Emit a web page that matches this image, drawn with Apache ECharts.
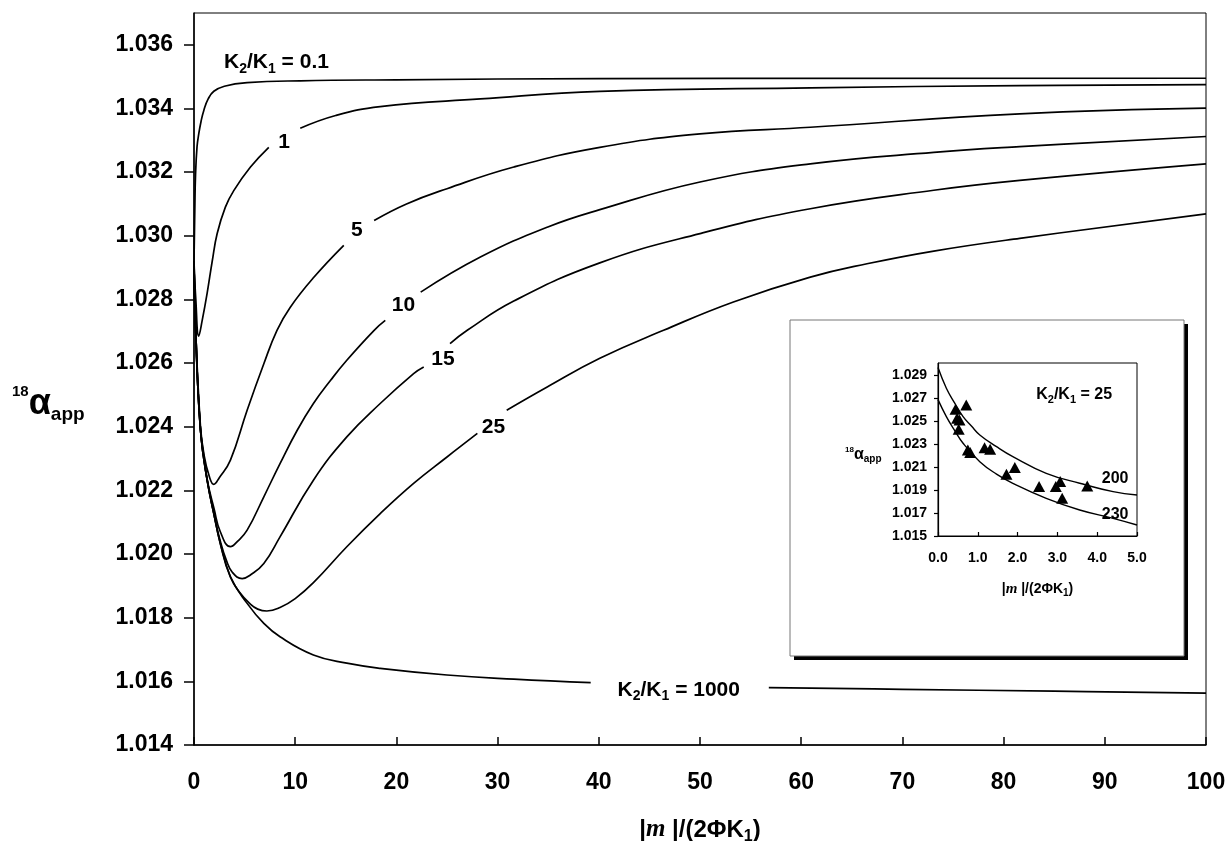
<!DOCTYPE html>
<html>
<head>
<meta charset="utf-8">
<script src="https://cdn.jsdelivr.net/npm/echarts@6/dist/echarts.min.js"></script>
<style>
  html, body { margin: 0; padding: 0; background: #fff; }
  #chart { width: 1228px; height: 841px; }
</style>
</head>
<body>
<div id="chart"></div>
<script>
// main panel: [x, alpha]; null marks the gap where the curve label sits
const curveK01 = [[0, 1.0292], [0.08, 1.0308], [0.15, 1.0319], [0.3, 1.0328], [0.47, 1.0332], [0.7, 1.0336], [0.97, 1.03394], [1.4, 1.0343], [1.96, 1.03454], [3, 1.0347], [5.25, 1.03481], [10.5, 1.03487], [20, 1.0349], [40, 1.03494], [100, 1.03495]];
const curveK1 = [[0, 1.0292], [0.18, 1.028], [0.47, 1.02685], [0.81, 1.02734], [1.3, 1.0282], [1.8, 1.0292], [2.29, 1.03007], [3.1, 1.0309], [3.93, 1.03142], [5.58, 1.03216], [7.39, 1.03278], [8.9, null], [10.5, 1.03338], [14, 1.03378], [18.4, 1.03406], [28.3, 1.0343], [40.1, 1.03454], [60.9, 1.03465], [81.6, 1.03472], [100, 1.03475]];
const curveK5 = [[0, 1.0292], [0.15, 1.0272], [0.64, 1.024], [1.0, 1.0231], [1.5, 1.02245], [1.96, 1.02219], [2.5, 1.0224], [3.6, 1.02295], [5.25, 1.02452], [6.9, 1.02598], [8.2, 1.02703], [9.5, 1.02775], [11.8, 1.02868], [14.8, 1.0297], [16.1, null], [17.8, 1.03048], [21, 1.031], [25, 1.03148], [31.6, 1.03216], [40.1, 1.03278], [50, 1.0332], [60.9, 1.03341], [81.6, 1.03383], [100, 1.03401]];
const curveK10 = [[0, 1.0292], [0.15, 1.0272], [0.64, 1.0239], [1.3, 1.02235], [2.0, 1.0214], [2.6, 1.0207], [3.6, 1.02023], [4.3, 1.0204], [5.25, 1.02075], [6.9, 1.0218], [8.5, 1.02284], [10.2, 1.02389], [11.8, 1.02473], [13.5, 1.02546], [15.1, 1.02609], [17.8, 1.02703], [18.9, 1.02734], [20.7, null], [22.4, 1.02823], [28.3, 1.02933], [34.9, 1.03027], [40.1, 1.03082], [50, 1.03169], [60.9, 1.03226], [73.1, 1.03262], [81.6, 1.0328], [100, 1.03312]];
const curveK15 = [[0, 1.0292], [0.15, 1.0272], [0.64, 1.0239], [1.3, 1.02232], [1.96, 1.02127], [2.6, 1.0204], [3.2, 1.0198], [3.8, 1.01942], [4.76, 1.01923], [5.6, 1.01935], [6.9, 1.0197], [8.5, 1.02054], [11.8, 1.02232], [15.1, 1.02368], [18.4, 1.02473], [21.7, 1.02567], [22.7, 1.02588], [24.6, null], [25.3, 1.02661], [27, 1.02703], [31.6, 1.02795], [40.1, 1.02915], [50, 1.03007], [60.9, 1.03085], [73.1, 1.03143], [81.6, 1.03174], [100, 1.03226]];
const curveK25 = [[0, 1.0292], [0.15, 1.0272], [0.64, 1.0239], [1.3, 1.02232], [1.96, 1.02127], [2.6, 1.02033], [3.6, 1.01928], [4.5, 1.0188], [5.5, 1.01845], [6.3, 1.01827], [7.2, 1.01821], [8.5, 1.01832], [10, 1.0186], [11.8, 1.0191], [15.1, 1.02023], [18.4, 1.02127], [21.7, 1.02222], [25, 1.02305], [28, 1.02379], [29.6, null], [30.9, 1.02452], [34.9, 1.02525], [40.1, 1.02615], [46.4, 1.02703], [53.3, 1.02792], [60.9, 1.0287], [66.5, 1.02912], [73.1, 1.02952], [81.6, 1.02992], [100, 1.03069]];
const curveK1000 = [[0, 1.0292], [0.15, 1.0272], [0.3, 1.0258], [0.64, 1.0239], [1.0, 1.023], [1.3, 1.02232], [1.96, 1.02127], [2.6, 1.02033], [3.6, 1.01928], [5.25, 1.01845], [6.9, 1.01782], [8.5, 1.0174], [11.8, 1.01683], [15.1, 1.01657], [18.4, 1.01641], [25, 1.0162], [31.6, 1.01607], [39.2, 1.01596], [47.9, null], [56.8, 1.0158], [70, 1.01575], [85, 1.01569], [100, 1.01563]];

const mainLabelText = ['K{s|2}/K{s|1} = 0.1', '1', '5', '10', '15', '25', 'K{s|2}/K{s|1} = 1000'];
const mainLabelX = [8.15, 8.9, 16.1, 20.7, 24.6, 29.6, 47.9];
const mainLabelY = [1.03544, 1.03294, 1.03017, 1.02781, 1.02612, 1.02399, 1.01573];
const mainYTicks = [1.014, 1.016, 1.018, 1.020, 1.022, 1.024, 1.026, 1.028, 1.030, 1.032, 1.034, 1.036];

// inset: K2/K1 = 25
const inset200 = [[0, 1.0297], [0.21, 1.0279], [0.42, 1.0266], [0.63, 1.02542], [0.84, 1.0246], [1.05, 1.02382], [1.47, 1.0228], [1.88, 1.02193], [2.72, 1.02047], [3.56, 1.0196], [4.4, 1.01887], [5, 1.01858]];
const inset230 = [[0, 1.0269], [0.21, 1.02542], [0.42, 1.0242], [0.63, 1.02309], [1.05, 1.02149], [1.47, 1.0204], [1.88, 1.0196], [2.72, 1.01829], [3.56, 1.01727], [4.4, 1.01654], [5, 1.01596]];
const measuredX = [0.44, 0.48, 0.54, 0.71, 0.52, 0.75, 0.81, 1.17, 1.31, 1.72, 1.93, 2.54, 2.96, 3.07, 3.12, 3.75];
const measuredY = [1.02606, 1.02528, 1.02513, 1.02644, 1.02432, 1.02251, 1.02228, 1.02271, 1.02257, 1.02039, 1.02097, 1.01931, 1.01931, 1.01975, 1.01829, 1.01937];
const insetLabelText = ['K{s|2}/K{s|1} = 25', '200', '230'];
const insetLabelX = [3.42, 4.45, 4.45];
const insetLabelY = [1.02731, 1.02004, 1.01683];
const insetYTicks = [1.015, 1.017, 1.019, 1.021, 1.023, 1.025, 1.027, 1.029];

const FONT = 'Liberation Sans, Arial, sans-serif';
const SERIF = 'Liberation Serif, Times New Roman, serif';

const chart = echarts.init(document.getElementById('chart'));

const curveSeries = (data, xi) => ({
  type: 'line',
  data: data,
  xAxisIndex: xi,
  yAxisIndex: xi,
  showSymbol: false,
  smooth: 0.45,
  connectNulls: false,
  lineStyle: { color: '#000', width: 1.7 },
  silent: true
});

const labelSeries = (xs, ys, texts, xi, size, sub) => ({
  type: 'scatter',
  xAxisIndex: xi,
  yAxisIndex: xi,
  symbolSize: 1,
  itemStyle: { color: 'transparent', opacity: 1 },
  silent: true,
  z: 5,
  data: xs.map((x, i) => ({ value: [x, ys[i]], name: texts[i] })),
  label: {
    show: true,
    position: 'inside',
    formatter: p => p.name,
    color: '#000',
    opacity: 1,
    fontFamily: FONT,
    fontWeight: 'bold',
    fontSize: size,
    rich: {
      s: { fontFamily: FONT, fontWeight: 'bold', fontSize: sub, verticalAlign: 'bottom', lineHeight: size + 6, color: '#000' }
    }
  }
});

const axisBase = {
  type: 'value',
  splitLine: { show: false },
  axisLine: { show: true, lineStyle: { color: '#000', width: 1.5 } }
};

const option = {
  animation: false,
  backgroundColor: '#fff',
  grid: [
    { left: 194, top: 13, width: 1012, height: 732, show: true, borderColor: '#000', borderWidth: 1, outerBoundsMode: 'none' },
    { left: 938, top: 363, width: 199, height: 173, show: true, borderColor: '#000', borderWidth: 1, outerBoundsMode: 'none', z: 3 }
  ],
  xAxis: [
    Object.assign({}, axisBase, {
      gridIndex: 0, min: 0, max: 100, interval: 10,
      axisTick: { inside: true, length: 8, lineStyle: { color: '#000', width: 1.5 } },
      axisLabel: { margin: 26, color: '#000', fontFamily: FONT, fontWeight: 'bold', fontSize: 23 },
      name: '|{i|m} |/(2ΦK{s|1})',
      nameLocation: 'middle',
      nameGap: 70,
      nameTextStyle: {
        color: '#000', fontFamily: FONT, fontWeight: 'bold', fontSize: 24,
        rich: {
          i: { fontFamily: SERIF, fontStyle: 'italic', fontWeight: 'bold', fontSize: 25, color: '#000' },
          s: { fontFamily: FONT, fontWeight: 'bold', fontSize: 16, verticalAlign: 'bottom', lineHeight: 30, color: '#000' }
        }
      }
    }),
    Object.assign({}, axisBase, {
      gridIndex: 1, min: 0, max: 5, interval: 1, z: 3,
      axisLine: { show: true, lineStyle: { color: '#000', width: 1.2 } },
      axisTick: { inside: true, length: 4, lineStyle: { color: '#000', width: 1.2 } },
      axisLabel: { margin: 15, color: '#000', fontFamily: FONT, fontWeight: 'bold', fontSize: 14, formatter: v => v.toFixed(1) },
      name: '|{i|m} |/(2ΦK{s|1})',
      nameLocation: 'middle',
      nameGap: 44,
      nameTextStyle: {
        color: '#000', fontFamily: FONT, fontWeight: 'bold', fontSize: 14,
        rich: {
          i: { fontFamily: SERIF, fontStyle: 'italic', fontWeight: 'bold', fontSize: 15, color: '#000' },
          s: { fontFamily: FONT, fontWeight: 'bold', fontSize: 10, verticalAlign: 'bottom', lineHeight: 18, color: '#000' }
        }
      }
    })
  ],
  yAxis: [
    Object.assign({}, axisBase, {
      gridIndex: 0, min: 1.014, max: 1.037,
      axisTick: { inside: false, length: 10, customValues: mainYTicks, lineStyle: { color: '#000', width: 1.5 } },
      axisLabel: { margin: 21, customValues: mainYTicks, color: '#000', fontFamily: FONT, fontWeight: 'bold', fontSize: 23, formatter: v => v.toFixed(3) }
    }),
    Object.assign({}, axisBase, {
      gridIndex: 1, min: 1.015, max: 1.0301, z: 3,
      axisLine: { show: true, lineStyle: { color: '#000', width: 1.2 } },
      axisTick: { inside: false, length: 4, customValues: insetYTicks, lineStyle: { color: '#000', width: 1.2 } },
      axisLabel: { margin: 11, customValues: insetYTicks, color: '#000', fontFamily: FONT, fontWeight: 'bold', fontSize: 14, formatter: v => v.toFixed(3) }
    })
  ],
  graphic: [
    // inset frame: black drop shadow + white panel with thin grey border
    {
      type: 'rect', z: -2,
      shape: { x: 794, y: 324, width: 394, height: 336 },
      style: { fill: '#000' }
    },
    {
      type: 'rect', z: -1,
      shape: { x: 790, y: 320, width: 394, height: 336 },
      style: { fill: '#fff', stroke: '#777', lineWidth: 1 }
    },
    {
      type: 'text', x: 12, y: 404,
      style: {
        text: '{sup|18}{a|α}{sub|app}',
        verticalAlign: 'middle',
        rich: {
          sup: { fontFamily: FONT, fontWeight: 'bold', fontSize: 15, verticalAlign: 'top', lineHeight: 36, fill: '#000' },
          a: { fontFamily: FONT, fontWeight: 'bold', fontSize: 36, lineHeight: 36, fill: '#000' },
          sub: { fontFamily: FONT, fontWeight: 'bold', fontSize: 19, verticalAlign: 'bottom', lineHeight: 40, fill: '#000' }
        }
      }
    },
    {
      type: 'text', x: 845, y: 455, z: 10,
      style: {
        text: '{sup|18}{a|α}{sub|app}',
        verticalAlign: 'middle',
        rich: {
          sup: { fontFamily: FONT, fontWeight: 'bold', fontSize: 8, verticalAlign: 'top', lineHeight: 16, fill: '#000' },
          a: { fontFamily: FONT, fontWeight: 'bold', fontSize: 16, lineHeight: 16, fill: '#000' },
          sub: { fontFamily: FONT, fontWeight: 'bold', fontSize: 10, verticalAlign: 'bottom', lineHeight: 18, fill: '#000' }
        }
      }
    }
  ],
  series: [
    curveSeries(curveK01, 0),
    curveSeries(curveK1, 0),
    curveSeries(curveK5, 0),
    curveSeries(curveK10, 0),
    curveSeries(curveK15, 0),
    curveSeries(curveK25, 0),
    curveSeries(curveK1000, 0),
    labelSeries(mainLabelX, mainLabelY, mainLabelText, 0, 21, 14),
    Object.assign(curveSeries(inset200, 1), { z: 4, lineStyle: { color: '#000', width: 1.4 } }),
    Object.assign(curveSeries(inset230, 1), { z: 4, lineStyle: { color: '#000', width: 1.4 } }),
    {
      type: 'scatter',
      xAxisIndex: 1,
      yAxisIndex: 1,
      symbol: 'triangle',
      symbolSize: [12, 11],
      itemStyle: { color: '#000', opacity: 1 },
      silent: true,
      z: 5,
      data: measuredX.map((x, i) => [x, measuredY[i]])
    },
    labelSeries(insetLabelX, insetLabelY, insetLabelText, 1, 16, 11)
  ]
};

chart.setOption(option);
</script>
</body>
</html>
